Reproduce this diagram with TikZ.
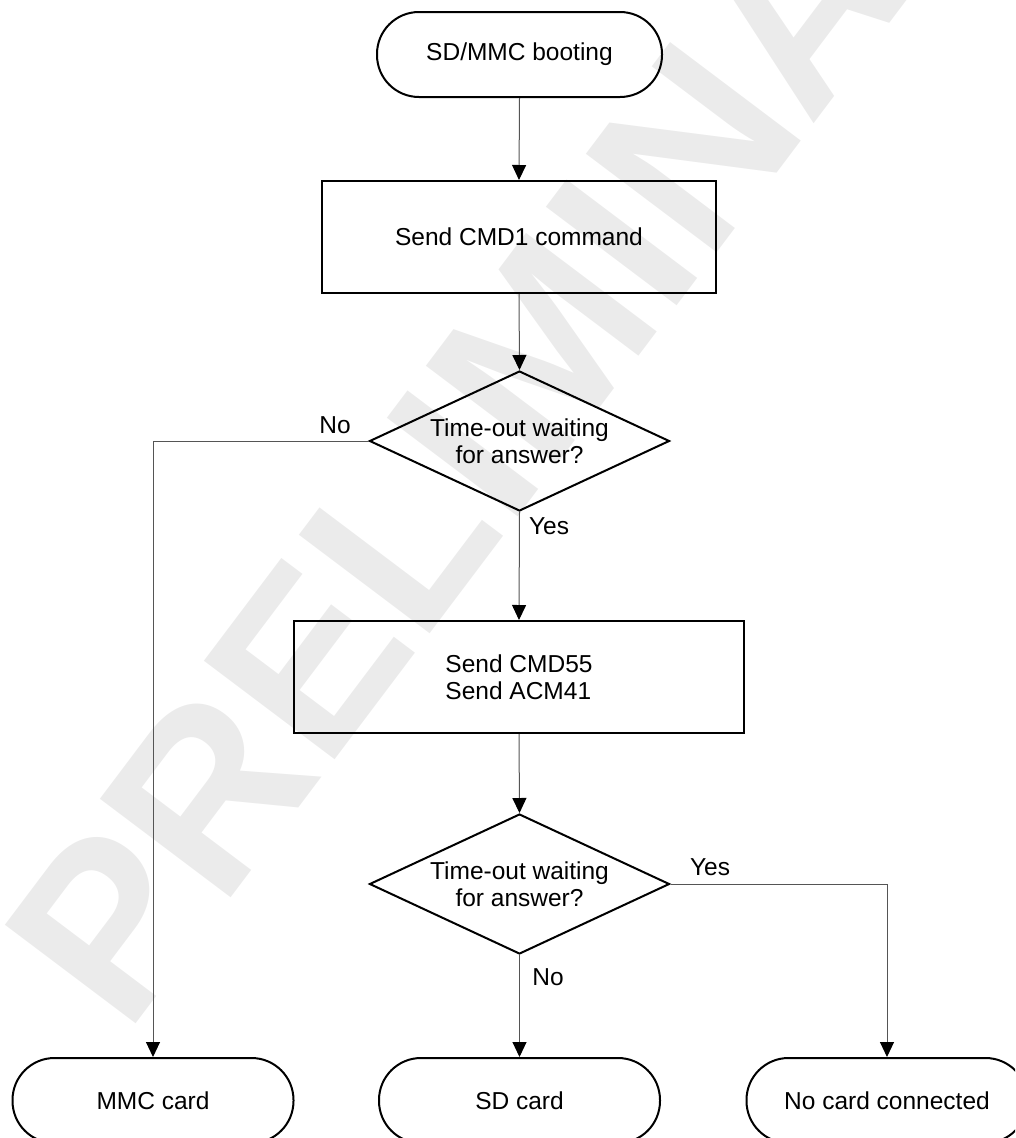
\documentclass[tikz,border=0pt]{standalone}
\usepackage{fontspec}
\setmainfont{Liberation Sans}
\usetikzlibrary{shapes.geometric,arrows.meta}
\definecolor{wmgray}{RGB}{235,235,235}
\definecolor{conngray}{RGB}{85,85,85}
\tikzset{
  base/.style={draw=black, line width=2pt, inner sep=0pt, font=\fontsize{24.5}{27}\selectfont},
  terminal/.style={base, rectangle, rounded corners=42pt, minimum height=85pt, minimum width=281pt},
  process/.style={base, rectangle, minimum height=112pt},
  decision/.style={base, diamond, shape aspect=2.14, minimum width=300pt, minimum height=140pt, align=center},
  conn/.style={draw=conngray, line width=1pt, -{Triangle[width=14pt,length=15pt,fill=black,color=black]}},
  lbl/.style={font=\fontsize{24.5}{27}\selectfont, inner sep=0pt}
}
\begin{document}
\begin{tikzpicture}[x=1pt, y=-1pt]
\useasboundingbox (0,0) rectangle (1015,1138);
\clip (0,0) rectangle (1015,1138);
% watermark
\node[rotate=53, anchor=base west, inner sep=0pt, text=wmgray,
      font=\fontsize{238}{238}\selectfont\bfseries] (wm) at (126,1037) {PRELIMINARY};
% nodes
\node[terminal, minimum width=285pt] (start) at (519.5,54.5) {SD/MMC booting};
\node[process, minimum width=394pt] (cmd1) at (519,237) {Send CMD1 command};
\node[decision] (dec1) at (519.5,441) {Time-out waiting\\for answer?};
\node[process, minimum width=450pt, align=left] (cmd55) at (519,677) {Send CMD55\\Send ACM41};
\node[decision] (dec2) at (519.5,884) {Time-out waiting\\for answer?};
\node[terminal] (mmc) at (153,1100.5) {MMC card};
\node[terminal] (sd) at (519.5,1100.5) {SD card};
\node[terminal] (nocard) at (887,1100.5) {No card connected};
% connectors
\draw[conn] (start.south) -- (cmd1.north);
\draw[conn] (cmd1.south) -- (dec1.north);
\draw[conn] (dec1.south) -- (cmd55.north);
\draw[conn] (cmd55.south) -- (dec2.north);
\draw[conn] (dec1.west) -| (mmc.north);
\draw[conn] (dec2.south) -- (sd.north);
\draw[conn] (dec2.east) -| (nocard.north);
% labels
\node[lbl] (no1) at (335,425) {No};
\node[lbl] (yes1) at (549,526) {Yes};
\node[lbl] (yes2) at (710,867) {Yes};
\node[lbl] (no2) at (548,977) {No};
\end{tikzpicture}
\end{document}
